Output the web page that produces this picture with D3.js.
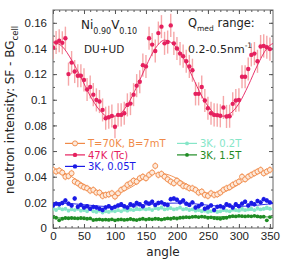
<!DOCTYPE html>
<html>
<head>
<meta charset="utf-8">
<script src="https://cdn.jsdelivr.net/npm/d3@7"></script>
<style>
  body { margin: 0; background: #fff; }
  svg { display: block; font-family: "DejaVu Sans", sans-serif; }
</style>
</head>
<body>
<script>
// angle grid (degrees) of the measured points
var angles = d3.range(0, 351, 5);

// 47K (Tc)
var red = [.1407,.1447,.1460,.1444,.1480,.1200,.1290,.1220,.1187,.1187,
           .1155,.1080,.1100,.1040,.0999,.0986,.0921,.0856,.0864,.0874,
           .0790,.0882,.0882,.0895,.0960,.0970,.1040,.1110,.1140,.1270,
           .1260,.1480,.1430,.1380,.1520,.1570,.1440,.1450,.1580,.1440,
           .1400,.1360,.1340,.1300,.1260,.1230,.1046,.1046,.1100,.0994,
           .0934,.0895,.0882,.0880,.0875,.0940,.0870,.0872,.0968,.0994,
           .0999,.1180,.1180,.1240,.1350,.1360,.1300,.1415,.1420,.1410,
           .1395];
// T=70K, B=7mT
var orange = [.0453,.0440,.0448,.0432,.0400,.0405,.0427,.0362,.0349,.0330,
              .0318,.0310,.0291,.0297,.0276,.0276,.0250,.0258,.0262,.0271,
              .0245,.0271,.0297,.0310,.0336,.0349,.0369,.0362,.0388,.0400,
              .0388,.0414,.0432,.0484,.0414,.0422,.0400,.0380,.0362,.0349,
              .0369,.0349,.0328,.0323,.0310,.0310,.0297,.0276,.0284,.0258,
              .0250,.0271,.0258,.0262,.0276,.0297,.0310,.0318,.0336,.0349,
              .0362,.0400,.0380,.0400,.0414,.0427,.0440,.0453,.0427,.0440,
              .0453];
// 3K, 0.05T
var blue = [.0175,.0190,.0185,.0195,.0215,.0190,.0175,.0230,.0165,.0180,
            .0160,.0170,.0150,.0165,.0160,.0150,.0140,.0160,.0170,.0155,
            .0165,.0175,.0185,.0170,.0160,.0185,.0175,.0195,.0185,.0170,
            .0200,.0190,.0205,.0180,.0195,.0200,.0185,.0180,.0225,.0230,
            .0220,.0200,.0215,.0190,.0180,.0200,.0160,.0170,.0185,.0150,
            .0160,.0175,.0140,.0165,.0170,.0160,.0185,.0175,.0160,.0185,
            .0170,.0190,.0205,.0175,.0195,.0185,.0210,.0200,.0225,.0215,
            .0200];
// 3K, 0.2T
var cyan = [.0150,.0140,.0155,.0145,.0150,.0135,.0145,.0140,.0150,.0135,
            .0140,.0130,.0145,.0130,.0125,.0135,.0120,.0130,.0125,.0135,
            .0130,.0140,.0130,.0145,.0135,.0145,.0140,.0150,.0145,.0155,
            .0145,.0150,.0140,.0155,.0150,.0160,.0145,.0150,.0155,.0145,
            .0150,.0160,.0145,.0150,.0140,.0145,.0135,.0140,.0130,.0135,
            .0125,.0130,.0135,.0125,.0130,.0140,.0135,.0130,.0145,.0140,
            .0135,.0150,.0140,.0145,.0150,.0140,.0155,.0145,.0150,.0160,
            .0150];
// 3K, 1.5T
var green = [.0085,.0080,.0060,.0072,.0078,.0076,.0078,.0077,.0075,.0078,
             .0076,.0072,.0075,.0062,.0065,.0068,.0064,.0066,.0063,.0068,
             .0060,.0065,.0067,.0063,.0066,.0070,.0065,.0062,.0068,.0072,
             .0066,.0070,.0068,.0072,.0070,.0066,.0071,.0075,.0072,.0078,
             .0074,.0080,.0082,.0085,.0083,.0087,.0088,.0085,.0089,.0086,
             .0080,.0083,.0078,.0075,.0072,.0078,.0080,.0088,.0092,.0090,
             .0094,.0092,.0090,.0093,.0091,.0095,.0090,.0087,.0088,.0060,
             .0085];

// fitted curves
var fitAnglesFine = d3.range(0, 361, 15);
var redFit = [.1450,.1415,.1310,.1175,.1030,.0920,.0866,.0880,.0960,.1100,.1260,.1400,.1465,
              .1430,.1330,.1180,.1030,.0920,.0870,.0890,.0970,.1110,.1270,.1400,.1450];
var orangeFit = [.0452,.0436,.0400,.0355,.0312,.0282,.0270,.0276,.0302,.0345,.0400,.0426,.0422,
                 .0398,.0358,.0315,.0284,.0270,.0274,.0300,.0342,.0387,.0423,.0446,.0452];
var fitAnglesCoarse = d3.range(0, 361, 30);
var blueFit = [.0195,.0190,.0177,.0167,.0168,.0180,.0193,.0195,.0183,.0170,.0168,.0178,.0193];
var cyanFit = [.0148,.0145,.0138,.0131,.0133,.0142,.0150,.0150,.0142,.0133,.0133,.0140,.0148];
var greenFit = [.0080,.0076,.0070,.0066,.0066,.0068,.0072,.0078,.0085,.0088,.0090,.0089,.0083];

var xTicks = [0, 50, 100, 150, 200, 250, 300, 350];
var yTicks = [0, 0.02, 0.04, 0.06, 0.08, 0.1, 0.12, 0.14, 0.16];
var yTickLabels = ["0", "0.02", "0.04", "0.06", "0.08", "0.1", "0.12", "0.14", "0.16"];

var series = [
  {label: "T=70K, B=7mT", values: orange, err: 0.0028, fit: orangeFit, fitX: fitAnglesFine,
   color: "#f08a48", bar: "#f6b488", r: 2.5, open: true},
  {label: "3K, 1.5T", values: green, err: 0.0008, fit: greenFit, fitX: fitAnglesCoarse,
   color: "#1f8c24", bar: "#1f8c24", r: 1.9},
  {label: "3K, 0.2T", values: cyan, err: 0.0012, fit: cyanFit, fitX: fitAnglesCoarse,
   color: "#86e6c8", bar: "#86e6c8", r: 1.9},
  {label: "3K, 0.05T", values: blue, err: 0.0018, fit: blueFit, fitX: fitAnglesCoarse,
   color: "#1a1ae6", bar: "#5a5af0", r: 2.2},
  {label: "47K (Tc)", values: red, err: 0.009, fit: redFit, fitX: fitAnglesFine,
   color: "#e5205e", bar: "#f38a8c", r: 2.2}
];

var W = 281, H = 263;
var svg = d3.select("body").append("svg").attr("width", W).attr("height", H);

var x = d3.scaleLinear().domain([0, 355]).range([53, 273]);
var y = d3.scaleLinear().domain([0, 0.17]).range([228, 10]);

svg.append("clipPath").attr("id", "plot")
   .append("rect").attr("x", 53).attr("y", 10).attr("width", 220).attr("height", 218);

// axes with inward ticks on all four sides
function styleAxis(g) {
  g.select(".domain").remove();
  g.selectAll("line").attr("stroke", "#555");
  g.selectAll("text").attr("font-size", 11.5).attr("fill", "#222");
}
var xMinor = d3.range(0, 356, 10), yMinor = d3.range(0, 0.171, 0.01);

svg.append("g").attr("transform", "translate(0,228)")
   .call(d3.axisBottom(x).tickValues(xMinor).tickSize(-2).tickFormat(""))
   .call(styleAxis);
svg.append("g").attr("transform", "translate(0,228)")
   .call(d3.axisBottom(x).tickValues(xTicks).tickSize(-4).tickPadding(4))
   .call(styleAxis);
svg.append("g").attr("transform", "translate(0,10)")
   .call(d3.axisTop(x).tickValues(xMinor).tickSize(-2).tickFormat(""))
   .call(styleAxis);
svg.append("g").attr("transform", "translate(0,10)")
   .call(d3.axisTop(x).tickValues(xTicks).tickSize(-4).tickFormat(""))
   .call(styleAxis);
svg.append("g").attr("transform", "translate(53,0)")
   .call(d3.axisLeft(y).tickValues(yMinor).tickSize(-2).tickFormat(""))
   .call(styleAxis);
svg.append("g").attr("transform", "translate(53,0)")
   .call(d3.axisLeft(y).tickValues(yTicks).tickSize(-4).tickPadding(6)
          .tickFormat(function(d, i) { return yTickLabels[i]; }))
   .call(styleAxis);
svg.append("g").attr("transform", "translate(273,0)")
   .call(d3.axisRight(y).tickValues(yMinor).tickSize(-2).tickFormat(""))
   .call(styleAxis);
svg.append("g").attr("transform", "translate(273,0)")
   .call(d3.axisRight(y).tickValues(yTicks).tickSize(-4).tickFormat(""))
   .call(styleAxis);

svg.append("rect").attr("x", 53).attr("y", 10).attr("width", 220).attr("height", 218)
   .attr("fill", "none").attr("stroke", "#666").attr("stroke-width", 1);

// data
var plot = svg.append("g").attr("clip-path", "url(#plot)");
var line = d3.line().x(function(d) { return x(d[0]); }).y(function(d) { return y(d[1]); })
             .curve(d3.curveMonotoneX);

series.forEach(function(s) {
  var g = plot.append("g");
  var pts = angles.map(function(a, i) { return [a, s.values[i]]; });
  g.selectAll("line.err").data(pts).enter().append("line")
   .attr("x1", function(d) { return x(d[0]); })
   .attr("x2", function(d) { return x(d[0]); })
   .attr("y1", function(d) { return y(d[1] - s.err); })
   .attr("y2", function(d) { return y(d[1] + s.err); })
   .attr("stroke", s.bar).attr("stroke-width", 1.4).attr("opacity", 0.75);
  g.append("path")
   .datum(s.fitX.map(function(a, i) { return [a, s.fit[i]]; }))
   .attr("d", line).attr("fill", "none").attr("stroke", s.color).attr("stroke-width", 1)
   .attr("opacity", 0.9);
  g.selectAll("circle").data(pts).enter().append("circle")
   .attr("cx", function(d) { return x(d[0]); })
   .attr("cy", function(d) { return y(d[1]); })
   .attr("r", s.r)
   .attr("fill", s.open ? "#fdeadc" : s.color)
   .attr("stroke", s.open ? s.color : "none")
   .attr("stroke-width", 0.9);
});

// legend
var legendRows = [
  {s: series[0], x: 65, y: 147},
  {s: series[4], x: 65, y: 158.5},
  {s: series[3], x: 65, y: 170},
  {s: series[2], x: 177, y: 147},
  {s: series[1], x: 177, y: 158.5}
];
legendRows.forEach(function(row) {
  var s = row.s, cy = row.y - 3.6;
  svg.append("line").attr("x1", row.x).attr("x2", row.x + 20)
     .attr("y1", cy).attr("y2", cy).attr("stroke", s.color).attr("stroke-width", 1.2);
  svg.append("circle").attr("cx", row.x + 10).attr("cy", cy).attr("r", s.r)
     .attr("fill", s.open ? "#fdeadc" : s.color)
     .attr("stroke", s.open ? s.color : "none").attr("stroke-width", 0.9);
  svg.append("text").attr("x", row.x + 23).attr("y", row.y)
     .attr("font-size", 10).attr("fill", s.color).text(s.label);
});

// annotations
var t1 = svg.append("text").attr("x", 81).attr("y", 29).attr("font-size", 12).attr("fill", "#222");
t1.append("tspan").text("Ni");
t1.append("tspan").attr("dy", 5).attr("font-size", 8).text("0.90");
t1.append("tspan").attr("dy", -5).text("V");
t1.append("tspan").attr("dy", 5).attr("font-size", 8).text("0.10");

svg.append("text").attr("x", 84).attr("y", 53).attr("font-size", 10.5).attr("fill", "#222").text("DU+UD");

var t2 = svg.append("text").attr("x", 188).attr("y", 27).attr("font-size", 11.5).attr("fill", "#222");
t2.append("tspan").text("Q");
t2.append("tspan").attr("dy", 4).attr("font-size", 7.5).text("med");
t2.append("tspan").attr("dy", -4).text(" range:");

var t3 = svg.append("text").attr("x", 188).attr("y", 53).attr("font-size", 11).attr("fill", "#222");
t3.append("tspan").text("0.2-0.5nm");
t3.append("tspan").attr("dy", -5).attr("font-size", 7.5).text("-1");

// axis titles
svg.append("text").attr("x", 163).attr("y", 256).attr("text-anchor", "middle")
   .attr("font-size", 12).attr("fill", "#222").text("angle");
var yl = svg.append("text").attr("transform", "translate(14,194) rotate(-90)")
   .attr("font-size", 12).attr("fill", "#222");
yl.append("tspan").text("neutron intensity: SF - BG");
yl.append("tspan").attr("dy", 3.5).attr("font-size", 8.5).text("cell");
</script>
</body>
</html>
